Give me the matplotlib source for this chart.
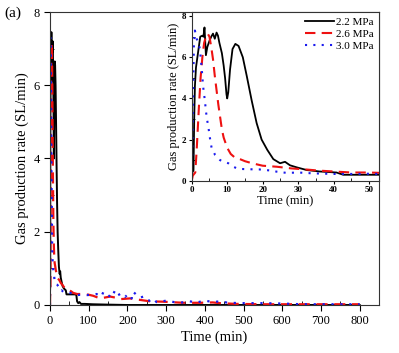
import numpy as np
import matplotlib
matplotlib.use("Agg")
import matplotlib.pyplot as plt
from matplotlib.ticker import MultipleLocator

plt.rcParams['font.family'] = ['Liberation Serif', 'DejaVu Serif']
plt.rcParams['mathtext.fontset'] = 'stix'

# time (min) and gas production rate (SL/min) for each pressure
t_22 = [0, 0.5, 0.7, 0.9, 1.2, 1.6, 2.0, 2.4, 3.0, 3.3, 3.6, 4.0, 4.4, 5.0, 5.5, 6.0, 6.5,
        7.0, 7.4, 7.8, 8.5, 9.0, 9.4, 9.8, 10.0, 10.3, 10.8, 11.5, 12.3, 13.2, 14.4, 15.5,
        16.9, 18.3, 19.7, 21.3, 23.0, 24.9, 26.3, 27.7, 29.6, 32.4, 36.0, 40.8, 42.7, 50,
        64, 68, 70, 73, 76, 80, 90, 110, 150, 200, 300, 500, 800]
v_22 = [0.35, 0.5, 3.0, 4.6, 5.5, 6.0, 6.5, 7.0, 7.05, 7.0, 7.45, 6.1, 6.5, 6.8, 7.0, 7.15, 6.9,
        7.2, 7.05, 6.7, 6.2, 5.6, 5.0, 4.2, 4.0, 4.3, 5.4, 6.4, 6.65, 6.55, 6.0, 5.1,
        3.9, 2.8, 2.0, 1.5, 1.05, 0.85, 0.92, 0.75, 0.65, 0.52, 0.45, 0.4, 0.29, 0.29,
        0.29, 0.28, 0.1, 0.05, 0.08, 0.03, 0.03, 0.02, 0.01, 0.0, 0.0, 0.0, 0.0]

t_26 = [0, 0.3, 1.0, 1.4, 2.0, 2.5, 3.0, 3.5, 4.0, 4.5, 5.0, 5.5, 6.0, 6.5, 7.0, 7.5, 8.0,
        8.5, 9.0, 10, 11, 12, 13.6, 15, 17, 20, 24, 28, 32, 36, 41, 45, 50, 55, 60, 70,
        86, 100, 112, 129, 140, 155, 170, 181, 195, 206, 220, 232, 258, 292, 344, 387,
        420, 440, 480, 550, 650, 800]
v_26 = [0, 0.25, 0.4, 1.5, 3.5, 5.0, 6.0, 6.7, 7.0, 7.15, 7.0, 6.5, 5.9, 5.1, 4.4, 3.7, 3.1,
        2.5, 2.1, 1.6, 1.3, 1.15, 1.05, 0.95, 0.85, 0.73, 0.68, 0.6, 0.55, 0.49, 0.44, 0.4,
        0.4, 0.37, 0.33, 0.3, 0.3, 0.28, 0.25, 0.18, 0.2, 0.23, 0.2, 0.16, 0.17, 0.18, 0.16,
        0.14, 0.1, 0.09, 0.06, 0.06, 0.07, 0.05, 0.03, 0.02, 0.02, 0.02]

t_30 = [0, 0.3, 0.6, 0.9, 1.4, 1.9, 2.3, 2.8, 3.2, 3.7, 4.2, 4.7, 5.2, 5.6, 6.6, 8, 10.3,
        11.5, 13, 15.5, 19, 22, 24, 26.8, 30, 34, 40, 45, 50, 60, 69, 80, 95, 110, 120,
        133, 138, 142, 150, 159, 168, 176, 185, 194, 202, 211, 215, 224, 233, 241, 250,
        258, 267, 275, 290, 301, 320, 335, 360, 380, 400, 420, 440, 460, 500, 550, 600,
        650, 800]
v_30 = [0, 3.0, 6.5, 7.3, 6.9, 6.7, 6.4, 5.5, 4.6, 3.9, 3.1, 2.6, 2.0, 1.6, 1.25, 1.0, 0.85,
        0.7, 0.58, 0.56, 0.55, 0.5, 0.44, 0.38, 0.4, 0.36, 0.33, 0.33, 0.34, 0.3, 0.27,
        0.28, 0.27, 0.28, 0.3, 0.23, 0.36, 0.32, 0.27, 0.2, 0.4, 0.27, 0.32, 0.22, 0.3,
        0.18, 0.36, 0.27, 0.2, 0.23, 0.13, 0.12, 0.18, 0.08, 0.1, 0.12, 0.08, 0.06, 0.1,
        0.07, 0.12, 0.08, 0.1, 0.06, 0.05, 0.05, 0.04, 0.02, 0.02]

labels = ['2.2 MPa', '2.6 MPa', '3.0 MPa']
styles = [dict(color='black', ls='-', lw=1.4),
          dict(color='#ee1111', ls=(0, (5, 3)), lw=1.6),
          dict(color='#1a1aee', ls=(0, (1, 3)), lw=1.6)]
series = [(t_22, v_22), (t_26, v_26), (t_30, v_30)]

fig = plt.figure(figsize=(3.99, 3.53), dpi=100)
ax = fig.add_axes([0.1253, 0.136, 0.8247, 0.830])
for (t, v), st in zip(series, styles):
    ax.plot(t, v, **st)
ax.set_xlim(0, 850)
ax.set_ylim(0, 8)
ax.xaxis.set_major_locator(MultipleLocator(100))
ax.xaxis.set_minor_locator(MultipleLocator(50))
ax.yaxis.set_major_locator(MultipleLocator(2))
ax.yaxis.set_minor_locator(MultipleLocator(1))
ax.tick_params(which='major', direction='out', length=4, labelsize=9)
ax.tick_params(which='minor', direction='in', length=3)
ax.set_xlabel('Time (min)', fontsize=10.5, labelpad=2)
ax.set_ylabel('Gas production rate (SL/min)', fontsize=10.5, labelpad=3)
for s in ax.spines.values():
    s.set_color('#333333')
fig.text(0.012, 0.962, '(a)', fontsize=11, va='center')

ins = fig.add_axes([0.4805, 0.488, 0.4695, 0.478])
for (t, v), st, lab in zip(series, styles, labels):
    ins.plot(t, v, label=lab, **{**st, 'lw': st['lw'] - 0.1})
ins.set_xlim(0, 52.8)
ins.set_ylim(0, 8.2)
ins.xaxis.set_major_locator(MultipleLocator(10))
ins.xaxis.set_minor_locator(MultipleLocator(5))
ins.yaxis.set_major_locator(MultipleLocator(2))
ins.yaxis.set_minor_locator(MultipleLocator(1))
ins.tick_params(which='major', direction='out', length=2.5, labelsize=6.5, pad=1.5)
ins.tick_params(which='minor', direction='in', length=2)
for lbl in ins.get_xticklabels() + ins.get_yticklabels():
    lbl.set_fontweight('bold')
ins.set_xlabel('Time (min)', fontsize=9, labelpad=1)
ins.set_ylabel('Gas production rate (SL/min)', fontsize=9, labelpad=1)
for s in ins.spines.values():
    s.set_color('#333333')
ins.legend(loc='upper right', frameon=False, fontsize=8, handlelength=2.6,
           handletextpad=0.2, labelspacing=0.2, borderaxespad=0.1)

fig.savefig('out.png', dpi=100)
